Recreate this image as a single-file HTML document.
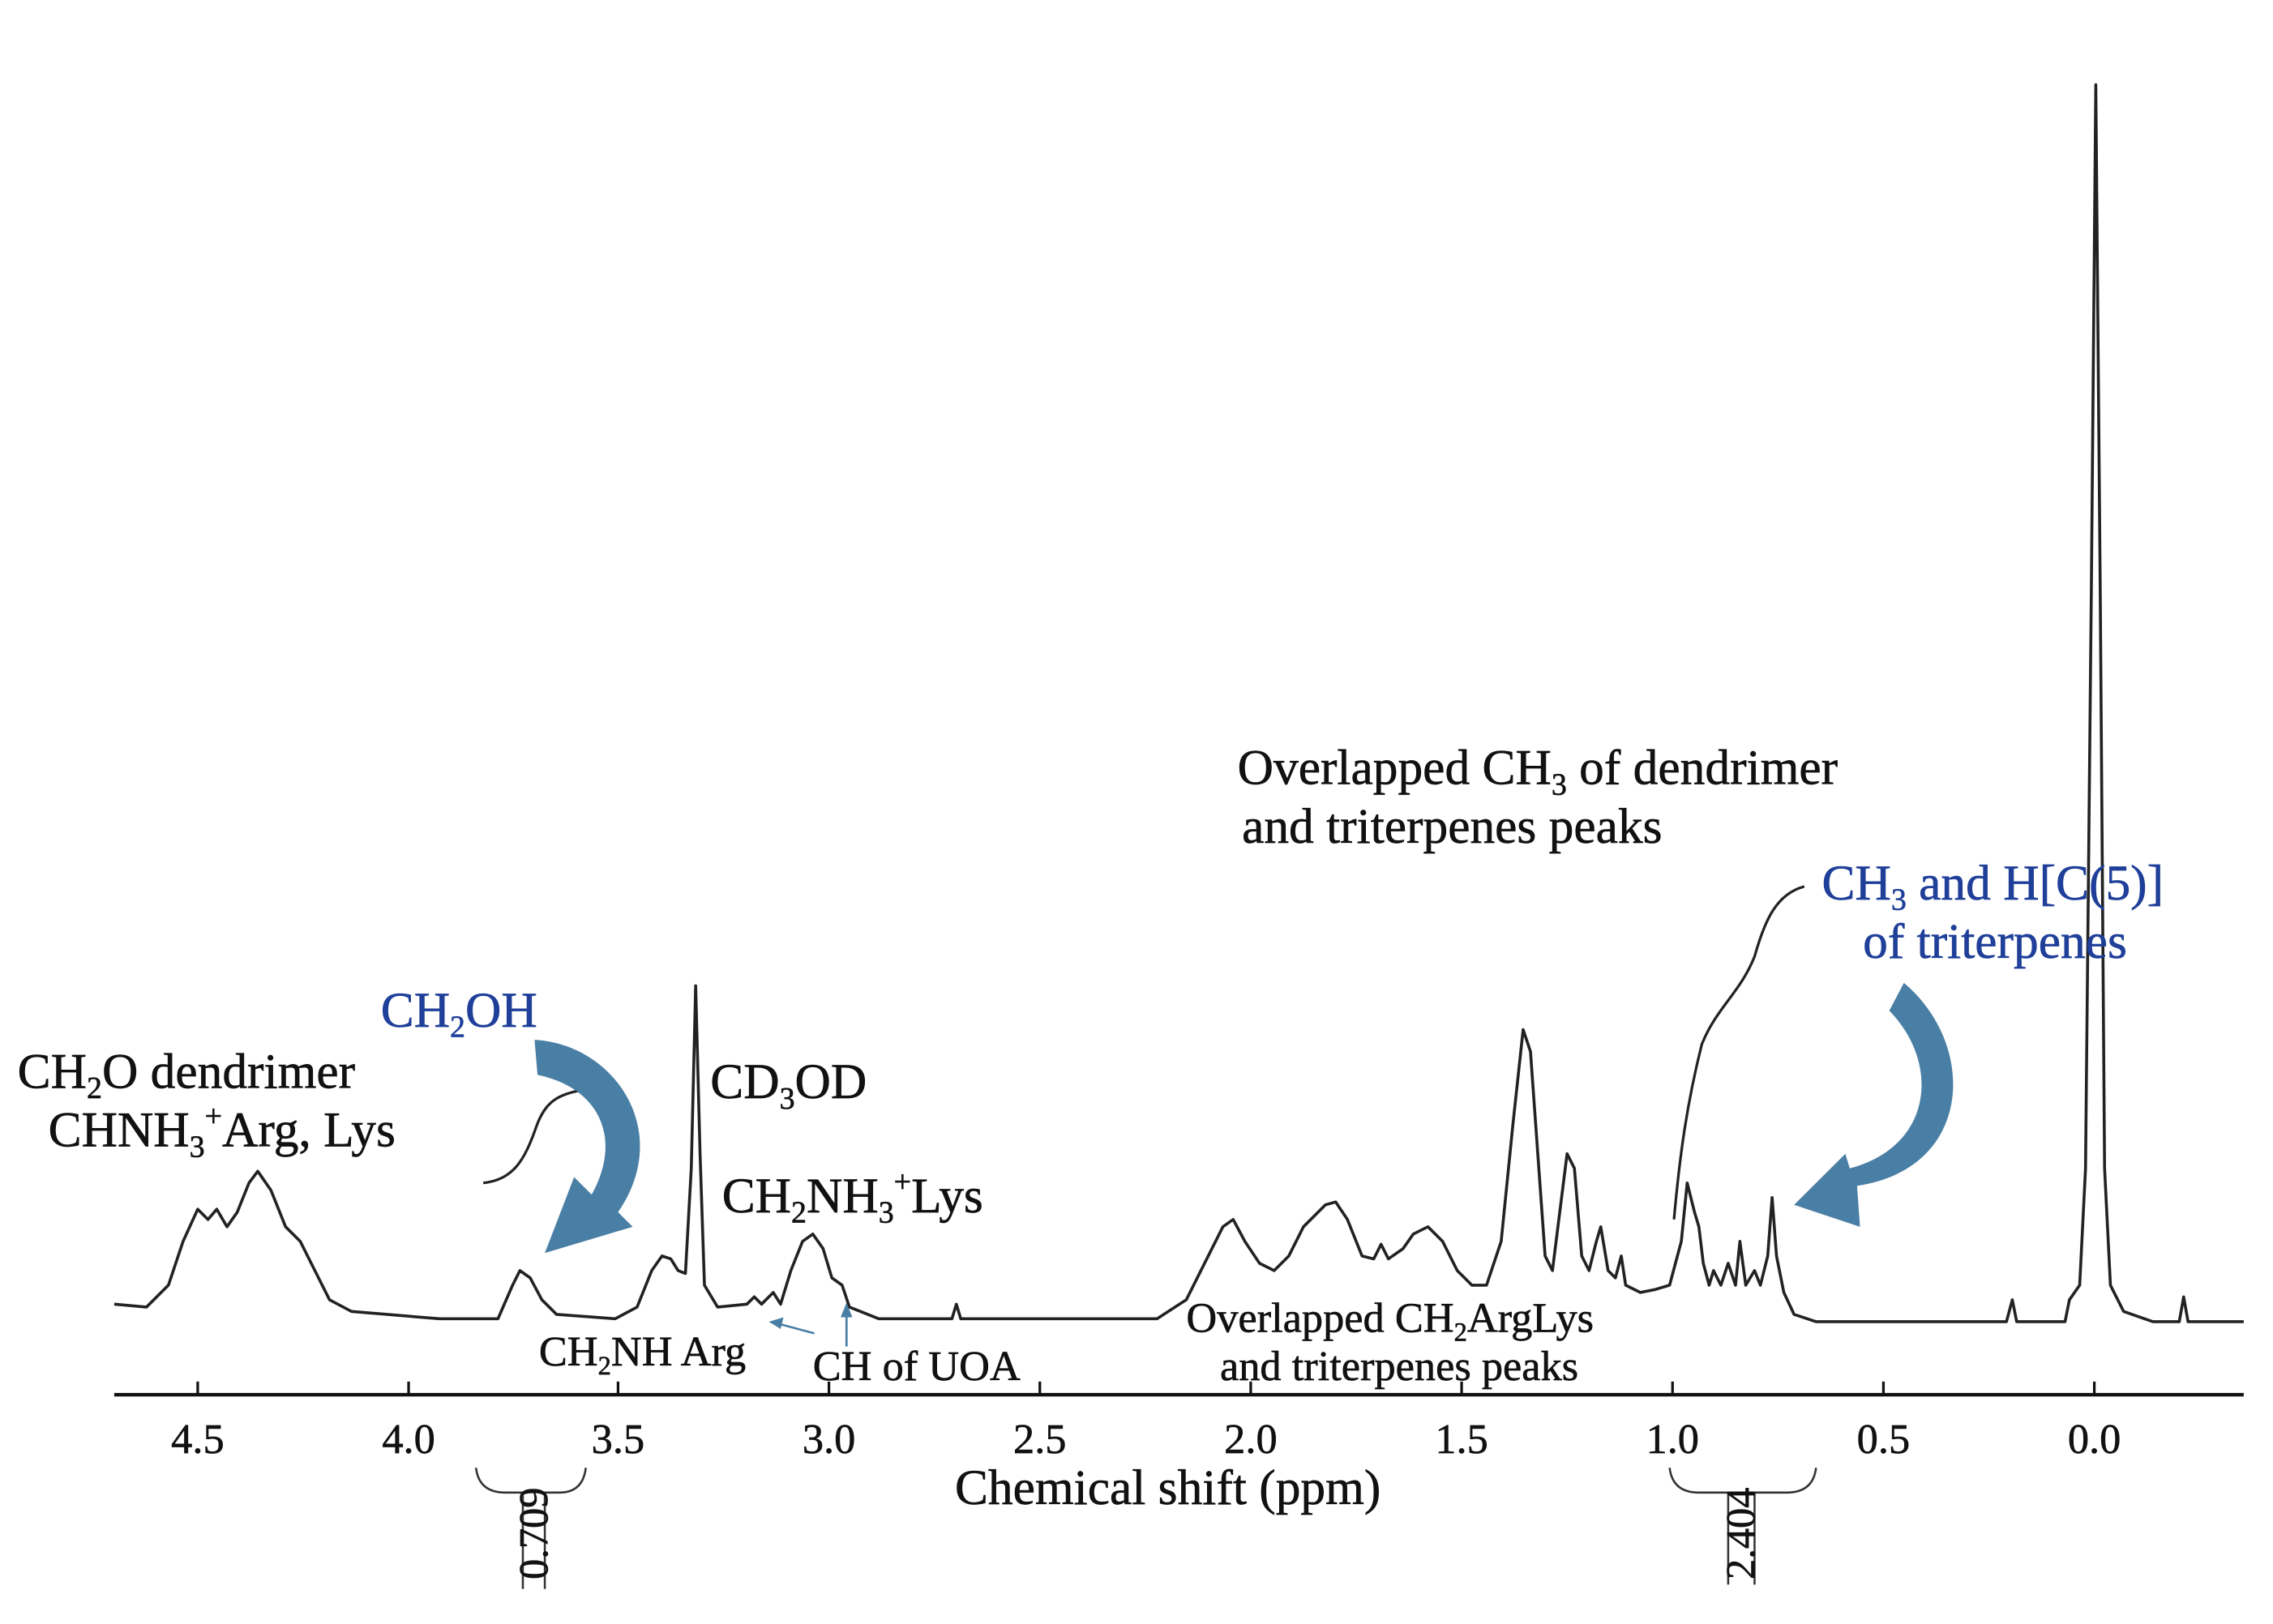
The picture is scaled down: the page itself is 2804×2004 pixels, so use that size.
<!DOCTYPE html>
<html><head><meta charset="utf-8"><style>
html,body{margin:0;padding:0;background:#fff;}
svg{display:block;}
text{font-family:"Liberation Serif",serif;fill:#111;stroke:#111;stroke-width:0.35;}
.b{fill:#1f3f99;stroke:#1f3f99;}
</style></head><body>
<svg width="2804" height="2004" viewBox="0 0 1552 1112" preserveAspectRatio="none" xmlns="http://www.w3.org/2000/svg">
<rect width="1552" height="1112" fill="#fff"/>
<polyline fill="none" stroke="#222" stroke-width="2" stroke-linejoin="round" points="78,893 100,895 115,880 125,850 135,828 142,835 148,828 155,840 162,830 170,810 176,802 185,815 195,840 205,850 215,870 225,890 240,898 300,903 340,903 350,880 355,870 362,875 370,890 380,900 420,903 435,895 445,870 452,860 458,862 463,870 468,872 472,800 475,675 478,790 481,880 490,895 510,893 515,888 520,893 528,885 533,893 540,870 548,850 555,845 562,855 568,875 575,880 580,895 600,903 650,903 653,893 656,903 790,903 810,890 825,860 835,840 842,835 850,850 860,865 870,870 880,860 890,840 905,825 912,823 920,835 930,860 938,862 943,852 948,862 958,855 965,845 975,840 985,850 995,870 1005,880 1015,880 1025,850 1033,770 1040,705 1045,720 1050,790 1055,860 1060,870 1065,830 1070,790 1075,800 1080,860 1085,870 1090,850 1093,840 1098,870 1103,875 1107,860 1110,880 1120,885 1130,883 1140,880 1148,850 1152,810 1157,830 1160,840 1163,865 1167,880 1170,870 1175,880 1180,865 1185,880 1188,850 1192,880 1198,870 1202,880 1207,860 1210,820 1213,860 1218,885 1225,900 1240,905 1300,905 1370,905 1374,890 1377,905 1410,905 1413,890 1420,880 1424,800 1428,400 1431,58 1434,400 1437,800 1441,880 1450,898 1470,905 1488,905 1491,888 1494,905 1532,905"/>
<path d="M330,810 C350,808 358,795 366,772 C372,755 380,749 400,746" fill="none" stroke="#222" stroke-width="1.8"/>
<path d="M1143,835 C1147,790 1152,755 1162,715 C1172,690 1188,680 1198,655 C1205,630 1213,612 1232,607" fill="none" stroke="#222" stroke-width="1.8"/>
<path d="M365,712 C420,715 460,775 422,830 L432,840 L372,858 L392,806 L404,818 C425,780 410,745 367,736 Z" fill="#4a7fa5"/>
<path d="M1300,673 C1350,715 1348,800 1268,812 L1270,840 L1225,825 L1260,790 L1263,800 C1320,785 1325,728 1290,692 Z" fill="#4a7fa5"/>
<line x1="556" y1="913" x2="530" y2="906" stroke="#4a7fa5" stroke-width="1.5"/>
<path d="M525,905 L535,902 L533,910 Z" fill="#4a7fa5"/>
<line x1="578" y1="922" x2="578" y2="898" stroke="#4a7fa5" stroke-width="1.5"/>
<path d="M578,892 L574,902 L582,902 Z" fill="#4a7fa5"/>
<line x1="78" y1="955" x2="1532" y2="955" stroke="#111" stroke-width="2.4"/>
<g stroke="#111" stroke-width="1.8">
<line x1="135" y1="946" x2="135" y2="955"/><line x1="279" y1="946" x2="279" y2="955"/><line x1="422" y1="946" x2="422" y2="955"/><line x1="566" y1="946" x2="566" y2="955"/><line x1="710" y1="946" x2="710" y2="955"/><line x1="854" y1="946" x2="854" y2="955"/><line x1="998" y1="946" x2="998" y2="955"/><line x1="1142" y1="946" x2="1142" y2="955"/><line x1="1286" y1="946" x2="1286" y2="955"/><line x1="1430" y1="946" x2="1430" y2="955"/>
</g>
<g font-size="29" text-anchor="middle">
<text x="135" y="995">4.5</text><text x="279" y="995">4.0</text><text x="422" y="995">3.5</text><text x="566" y="995">3.0</text><text x="710" y="995">2.5</text><text x="854" y="995">2.0</text><text x="998" y="995">1.5</text><text x="1142" y="995">1.0</text><text x="1286" y="995">0.5</text><text x="1430" y="995">0.0</text>
</g>
<text x="652" y="1030" font-size="34">Chemical shift (ppm)</text>
<path d="M325,1005 Q327,1022 345,1022 L357,1022 L357,1088 M400,1005 Q398,1022 382,1022 L372,1022 L372,1088" fill="none" stroke="#333" stroke-width="1.4"/>
<text transform="translate(374,1050) rotate(-90)" font-size="28" text-anchor="middle">0.709</text>
<path d="M1140,1005 Q1142,1022 1160,1022 L1180,1022 L1180,1085 M1240,1005 Q1238,1022 1220,1022 L1198,1022 L1198,1085" fill="none" stroke="#333" stroke-width="1.4"/>
<text transform="translate(1198,1050) rotate(-90)" font-size="28" text-anchor="middle">2.404</text>
<g font-size="34">
<text x="12" y="745">CH<tspan font-size="21" dy="7">2</tspan><tspan dy="-7">O dendrimer</tspan></text>
<text x="33" y="785">CHNH<tspan font-size="21" dy="7">3</tspan><tspan font-size="21" dy="-21">+</tspan><tspan dy="14">Arg, Lys</tspan></text>
<text class="b" x="260" y="703">CH<tspan font-size="21" dy="7">2</tspan><tspan dy="-7">OH</tspan></text>
<text x="485" y="752">CD<tspan font-size="21" dy="7">3</tspan><tspan dy="-7">OD</tspan></text>
<text x="493" y="830">CH<tspan font-size="21" dy="7">2</tspan><tspan dy="-7">NH</tspan><tspan font-size="21" dy="7">3</tspan><tspan font-size="21" dy="-21">+</tspan><tspan dy="14">Lys</tspan></text>
<text x="845" y="537">Overlapped CH<tspan font-size="21" dy="7">3</tspan><tspan dy="-7"> of  dendrimer</tspan></text>
<text x="848" y="577">and triterpenes peaks</text>
<text class="b" x="1244" y="616">CH<tspan font-size="21" dy="7">3</tspan><tspan dy="-7"> and H[C(5)]</tspan></text>
<text class="b" x="1272" y="656">of triterpenes</text>
</g>
<g font-size="29">
<text x="368" y="935">CH<tspan font-size="18" dy="6">2</tspan><tspan dy="-6">NH Arg</tspan></text>
<text x="555" y="945">CH of UOA</text>
<text x="810" y="912">Overlapped CH<tspan font-size="18" dy="6">2</tspan><tspan dy="-6">ArgLys</tspan></text>
<text x="833" y="945">and triterpenes peaks</text>
</g>
</svg>
</body></html>
